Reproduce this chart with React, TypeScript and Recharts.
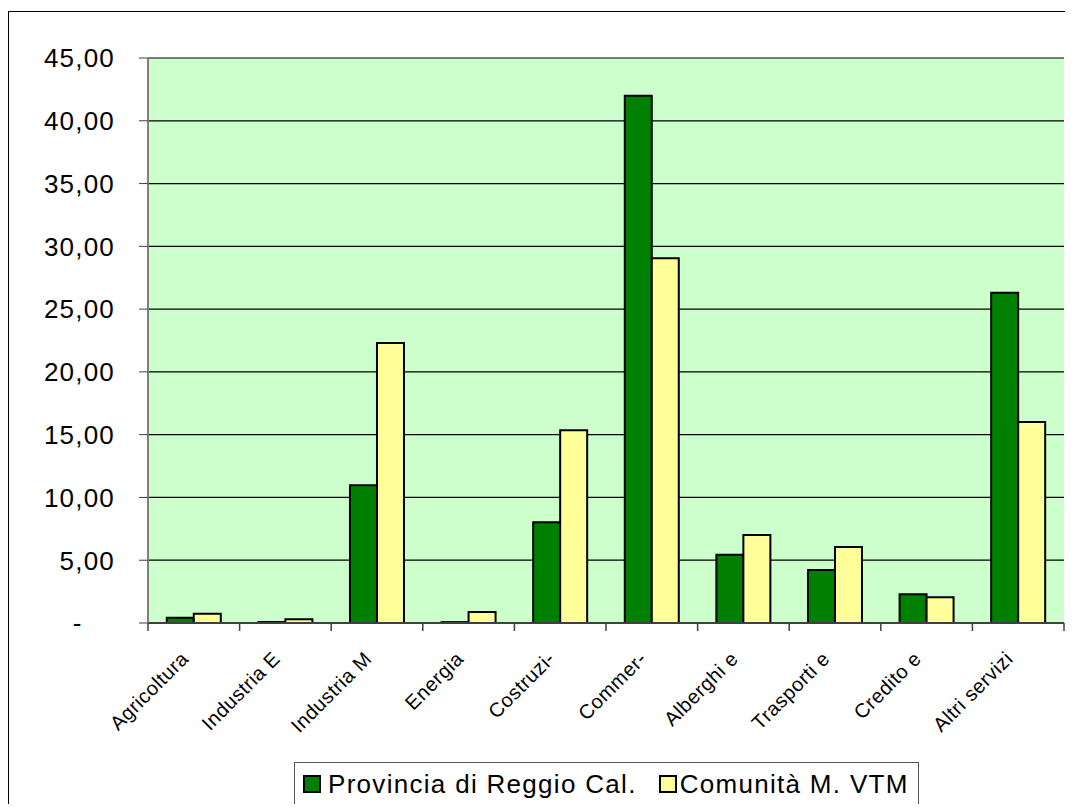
import React from "react";
import { BarChart, Bar, XAxis, YAxis, CartesianGrid, Legend } from "recharts";

const categories = [
  "Agricoltura",
  "Industria E",
  "Industria M",
  "Energia",
  "Costruzi-",
  "Commer-",
  "Alberghi e",
  "Trasporti e",
  "Credito e",
  "Altri servizi",
];
const provincia = [0.42, 0.08, 10.97, 0.07, 8.02, 42.0, 5.44, 4.22, 2.28, 26.3];
const comunita = [0.74, 0.3, 22.3, 0.88, 15.35, 29.05, 7.0, 6.05, 2.05, 16.0];
const yTicks = [0, 5, 10, 15, 20, 25, 30, 35, 40, 45];
const seriesNames = ["Provincia di Reggio Cal.", "Comunità M. VTM"];
const seriesColors = ["#008000", "#FFFF99"];

const data = categories.map((c, i) => ({
  name: c,
  provincia: provincia[i],
  comunita: comunita[i],
}));

const FONT = "'Liberation Sans', Arial, sans-serif";
const PLOT_W = 916;
const BAND = PLOT_W / categories.length;

function XTick(props: any) {
  const { x, y, payload, index } = props;
  const tx = x - 4;
  const ty = y + 37;
  return (
    <g>
      <line x1={x - BAND / 2} x2={x - BAND / 2} y1={y} y2={y + 8} stroke="#404040" strokeWidth={1.5} />
      {index === categories.length - 1 && (
        <line x1={x + BAND / 2} x2={x + BAND / 2} y1={y} y2={y + 8} stroke="#404040" strokeWidth={1.5} />
      )}
      <text
        x={tx}
        y={ty}
        transform={`rotate(-45 ${tx} ${ty})`}
        textAnchor="end"
        fontSize={20}
        fontFamily={FONT}
        letterSpacing={0.5}
        fill="#000"
      >
        {payload.value}
      </text>
    </g>
  );
}

function YTick(props: any) {
  const { x, y, payload } = props;
  const v = payload.value as number;
  if (v === 0) {
    return (
      <text x={x - 38} y={y} dy="0.36em" textAnchor="middle" fontSize={26} fontFamily={FONT} fill="#000">
        -
      </text>
    );
  }
  return (
    <text x={x} y={y} dy="0.36em" textAnchor="end" fontSize={26} fontFamily={FONT} letterSpacing={1.2} fill="#000">
      {v.toFixed(2).replace(".", ",")}
    </text>
  );
}

function LegendBox() {
  return (
    <div
      style={{
        boxSizing: "border-box",
        width: 625,
        height: 44,
        border: "1.5px solid #555",
        background: "#fff",
        display: "flex",
        alignItems: "center",
        fontFamily: FONT,
        fontSize: 26,
        letterSpacing: 1.3,
        color: "#000",
        paddingLeft: 8,
        whiteSpace: "nowrap",
      }}
    >
      {seriesNames.map((n, i) => (
        <span key={n} style={{ display: "flex", alignItems: "center", marginRight: i === 0 ? 22 : 0 }}>
          <span
            style={{
              display: "inline-block",
              boxSizing: "border-box",
              width: 18,
              height: 18,
              background: seriesColors[i],
              border: "2px solid #000",
              marginRight: i === 0 ? 7 : 3,
            }}
          />
          {n}
        </span>
      ))}
    </div>
  );
}

export default function App() {
  return (
    <div
      style={{
        position: "relative",
        top: 3,
        boxSizing: "border-box",
        width: 1065,
        height: 796,
        borderLeft: "1px solid #000",
        borderTop: "1px solid #000",
        background: "#fff",
      }}
    >
      <style>{"html,body{overflow:hidden}"}</style>
      <BarChart
        width={1064}
        height={795}
        data={data}
        margin={{ top: 46, right: 9, left: 0, bottom: 144 }}
        barCategoryGap="20.5%"
        barGap={0}
      >
        <CartesianGrid
          horizontal={true}
          vertical={false}
          stroke="#000"
          strokeWidth={1.2}
          fill="#CCFFCC"
          fillOpacity={1}
          yAxisId="left"
        />
        <XAxis
          dataKey="name"
          xAxisId="bottom"
          height={40}
          interval={0}
          tickLine={false}
          tickSize={0}
          tickMargin={0}
          axisLine={{ stroke: "#404040", strokeWidth: 2 }}
          tick={<XTick />}
        />
        <XAxis dataKey="name" xAxisId="top" orientation="top" height={0} tick={false} tickLine={false} axisLine={{ stroke: "#808080", strokeWidth: 2 }} />
        <YAxis
          yAxisId="left"
          width={139}
          domain={[0, 45]}
          ticks={yTicks}
          interval={0}
          tickSize={9}
          tickMargin={24}
          tickLine={{ stroke: "#404040" }}
          axisLine={{ stroke: "#808080", strokeWidth: 2 }}
          tick={<YTick />}
        />
        <YAxis yAxisId="right" orientation="right" width={0} domain={[0, 45]} tick={false} tickLine={false} axisLine={{ stroke: "#808080", strokeWidth: 2 }} />
        <Legend
          verticalAlign="middle"
          align="center"
          layout="horizontal"
          content={() => <LegendBox />}
          wrapperStyle={{ position: "absolute", left: 285, top: 750, width: 625, height: 44, bottom: "auto", right: "auto" }}
        />
        <Bar
          dataKey="provincia"
          name={seriesNames[0]}
          xAxisId="bottom"
          yAxisId="left"
          fill={seriesColors[0]}
          stroke="#000"
          strokeWidth={2}
          isAnimationActive={false}
        />
        <Bar
          dataKey="comunita"
          name={seriesNames[1]}
          xAxisId="bottom"
          yAxisId="left"
          fill={seriesColors[1]}
          stroke="#000"
          strokeWidth={2}
          isAnimationActive={false}
        />
      </BarChart>
    </div>
  );
}
